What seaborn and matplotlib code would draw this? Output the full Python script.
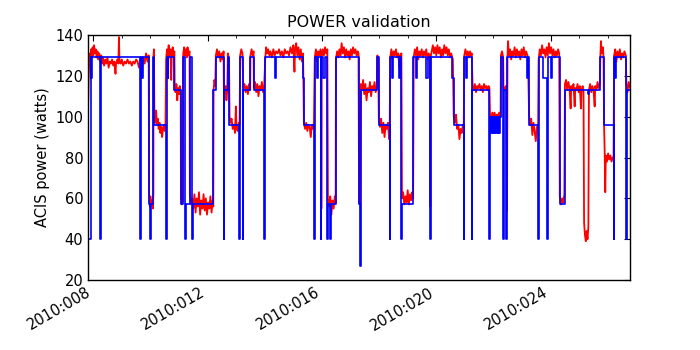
import numpy as np
import pandas as pd
import matplotlib
matplotlib.use("Agg")
import matplotlib.pyplot as plt
from matplotlib.ticker import FuncFormatter, MultipleLocator
import seaborn as sns

# model (blue) - step levels, day of year 2010
model_day = [7.825, 7.906, 7.93, 7.965, 8.245, 8.27, 9.62, 9.654, 9.675, 9.70,
             9.74, 9.958, 9.99, 10.01, 10.108, 10.133, 10.542, 10.565, 10.60, 10.63,
             10.843, 11.066, 11.147, 11.206, 11.23, 11.381, 11.472, 11.495, 12.206, 12.290,
             12.570, 12.59, 12.710, 12.766, 13.115, 13.138, 13.234, 13.257, 13.500, 13.619,
             13.979, 14.024, 14.374, 14.40, 15.33, 15.378, 15.727, 15.75, 15.82, 15.85,
             15.962, 15.985, 16.05, 16.10, 16.192, 16.215, 16.30, 16.32, 16.486, 17.30,
             17.33, 17.36, 17.94, 17.98, 18.374, 18.395, 18.45, 18.48, 18.69, 18.72,
             18.780, 18.80, 19.189, 19.30, 19.33, 19.64, 19.72, 19.783, 19.81, 20.55,
             20.612, 20.962, 20.985, 21.04, 21.07, 21.241, 21.265, 21.857, 21.88, 21.91,
             21.94, 21.97, 22.00, 22.03, 22.06, 22.09, 22.12, 22.15, 22.18, 22.21,
             22.24, 22.255, 22.336, 22.36, 22.451, 22.475, 23.16, 23.20, 23.245, 23.570,
             23.595, 23.734, 23.885, 23.91, 24.02, 24.05, 24.318, 24.493, 25.31, 25.35,
             25.738, 25.857, 26.203, 26.225, 26.25, 26.28, 26.636, 26.66, 26.78]
model_watts = [40, 129, 119, 129, 40, 129, 119, 40, 129, 119,
               129, 57, 40, 57, 129, 96, 40, 129, 119, 129,
               113, 57, 129, 40, 57, 129, 40, 57, 113, 129,
               40, 113, 129, 96, 40, 129, 40, 113, 129, 113,
               40, 129, 119, 129, 119, 96, 40, 129, 119, 129,
               40, 129, 119, 129, 40, 57, 40, 57, 129, 57,
               27, 113, 129, 96, 40, 129, 119, 129, 119, 129,
               40, 57, 129, 119, 129, 119, 129, 40, 129, 119,
               96, 40, 129, 119, 129, 40, 113, 40, 100, 92,
               100, 92, 100, 92, 100, 92, 100, 92, 100, 92,
               100, 129, 40, 113, 40, 129, 119, 129, 96, 40,
               129, 119, 40, 129, 119, 129, 57, 113, 111, 113,
               129, 96, 40, 129, 119, 129, 40, 113, 113]

# telemetry (red)
telem_day = [7.825, 7.84, 7.86, 7.88, 7.90, 7.93, 7.95, 7.98, 8.00, 8.03,
             8.06, 8.09, 8.12, 8.15, 8.18, 8.21, 8.25, 8.28, 8.31, 8.34,
             8.38, 8.42, 8.46, 8.50, 8.54, 8.58, 8.62, 8.66, 8.70, 8.74,
             8.78, 8.80, 8.84, 8.88, 8.90, 8.92, 8.96, 9.00, 9.05, 9.10,
             9.15, 9.20, 9.25, 9.30, 9.35, 9.40, 9.45, 9.50, 9.55, 9.60,
             9.65, 9.70, 9.75, 9.80, 9.85, 9.90, 9.94, 9.955, 9.98, 10.00,
             10.03, 10.06, 10.09, 10.105, 10.11, 10.125, 10.14, 10.17, 10.20, 10.23,
             10.26, 10.29, 10.32, 10.35, 10.38, 10.41, 10.44, 10.47, 10.50, 10.53,
             10.55, 10.58, 10.61, 10.64, 10.67, 10.70, 10.73, 10.75, 10.78, 10.81,
             10.84, 10.85, 10.88, 10.91, 10.94, 10.97, 11.00, 11.03, 11.06, 11.07,
             11.10, 11.13, 11.15, 11.18, 11.21, 11.24, 11.27, 11.30, 11.33, 11.37,
             11.38, 11.42, 11.46, 11.50, 11.54, 11.58, 11.62, 11.66, 11.70, 11.74,
             11.78, 11.82, 11.86, 11.90, 11.94, 11.98, 12.02, 12.06, 12.10, 12.14,
             12.18, 12.20, 12.21, 12.24, 12.27, 12.29, 12.33, 12.37, 12.41, 12.45,
             12.49, 12.53, 12.56, 12.57, 12.60, 12.63, 12.66, 12.69, 12.71, 12.75,
             12.77, 12.80, 12.84, 12.88, 12.92, 12.96, 12.99, 13.01, 13.05, 13.09,
             13.12, 13.14, 13.18, 13.22, 13.25, 13.29, 13.33, 13.37, 13.41, 13.45,
             13.49, 13.50, 13.54, 13.58, 13.61, 13.62, 13.66, 13.70, 13.74, 13.78,
             13.82, 13.86, 13.90, 13.94, 13.98, 14.02, 14.05, 14.08, 14.12, 14.16,
             14.20, 14.25, 14.30, 14.35, 14.40, 14.45, 14.50, 14.55, 14.60, 14.65,
             14.70, 14.75, 14.80, 14.85, 14.90, 14.95, 15.00, 15.04, 15.06, 15.10,
             15.14, 15.18, 15.22, 15.26, 15.30, 15.34, 15.37, 15.41, 15.45, 15.49,
             15.53, 15.57, 15.61, 15.65, 15.69, 15.72, 15.75, 15.79, 15.83, 15.87,
             15.91, 15.95, 15.975, 15.98, 15.99, 16.03, 16.07, 16.11, 16.15, 16.19,
             16.21, 16.25, 16.29, 16.33, 16.37, 16.41, 16.45, 16.48, 16.49, 16.53,
             16.57, 16.61, 16.65, 16.69, 16.73, 16.77, 16.81, 16.85, 16.89, 16.93,
             16.97, 17.01, 17.05, 17.09, 17.13, 17.17, 17.21, 17.25, 17.28, 17.30,
             17.33, 17.36, 17.40, 17.44, 17.48, 17.52, 17.56, 17.60, 17.64, 17.68,
             17.72, 17.76, 17.80, 17.84, 17.88, 17.92, 17.94, 17.97, 17.99, 18.03,
             18.07, 18.11, 18.15, 18.19, 18.23, 18.27, 18.31, 18.35, 18.37, 18.39,
             18.43, 18.47, 18.51, 18.55, 18.59, 18.63, 18.67, 18.71, 18.74, 18.78,
             18.80, 18.84, 18.88, 18.92, 18.96, 19.00, 19.04, 19.08, 19.12, 19.16,
             19.19, 19.21, 19.25, 19.29, 19.33, 19.37, 19.41, 19.45, 19.49, 19.53,
             19.57, 19.61, 19.65, 19.69, 19.73, 19.78, 19.79, 19.80, 19.84, 19.88,
             19.92, 19.96, 20.00, 20.04, 20.08, 20.12, 20.16, 20.20, 20.24, 20.28,
             20.32, 20.36, 20.40, 20.44, 20.48, 20.52, 20.58, 20.61, 20.65, 20.69,
             20.73, 20.77, 20.81, 20.85, 20.89, 20.93, 20.96, 20.98, 21.02, 21.06,
             21.10, 21.14, 21.18, 21.22, 21.24, 21.27, 21.31, 21.35, 21.39, 21.43,
             21.47, 21.51, 21.55, 21.59, 21.63, 21.67, 21.71, 21.75, 21.79, 21.83,
             21.86, 21.88, 21.92, 21.96, 22.00, 22.04, 22.08, 22.12, 22.16, 22.20,
             22.25, 22.26, 22.30, 22.34, 22.35, 22.39, 22.43, 22.46, 22.475, 22.49,
             22.51, 22.54, 22.58, 22.62, 22.66, 22.70, 22.74, 22.78, 22.82, 22.86,
             22.90, 22.94, 22.98, 23.02, 23.06, 23.10, 23.14, 23.19, 23.21, 23.245,
             23.28, 23.32, 23.36, 23.40, 23.44, 23.48, 23.52, 23.56, 23.58, 23.62,
             23.66, 23.70, 23.74, 23.78, 23.82, 23.86, 23.90, 23.94, 23.98, 24.02,
             24.06, 24.10, 24.14, 24.18, 24.22, 24.26, 24.30, 24.32, 24.36, 24.40,
             24.44, 24.48, 24.50, 24.54, 24.58, 24.62, 24.66, 24.70, 24.72, 24.76,
             24.80, 24.84, 24.86, 24.90, 24.94, 24.98, 25.02, 25.06, 25.08, 25.12,
             25.15, 25.17, 25.20, 25.23, 25.26, 25.29, 25.32, 25.34, 25.38, 25.42,
             25.46, 25.50, 25.54, 25.56, 25.60, 25.64, 25.68, 25.72, 25.74, 25.76,
             25.79, 25.83, 25.85, 25.87, 25.89, 25.91, 25.93, 25.97, 26.01, 26.05,
             26.09, 26.13, 26.17, 26.20, 26.22, 26.26, 26.30, 26.34, 26.38, 26.42,
             26.46, 26.50, 26.54, 26.58, 26.63, 26.65, 26.69, 26.73, 26.78]
telem_watts = [107, 118, 126, 131, 128, 133, 129, 134, 130, 135,
               131, 133, 129, 132, 128, 131, 127, 130, 126, 129,
               125, 128, 126, 129, 124, 127, 126, 128, 125, 127,
               121, 126, 128, 126, 139, 127, 126, 128, 125, 127,
               126, 128, 126, 127, 125, 127, 126, 128, 127, 124,
               128, 122, 129, 126, 131, 127, 130, 62, 56, 61,
               57, 59, 55, 63, 130, 133, 100, 97, 103, 96,
               99, 94, 97, 92, 95, 90, 94, 96, 93, 97,
               128, 133, 130, 135, 129, 133, 118, 131, 134, 130,
               132, 115, 112, 116, 108, 114, 111, 115, 112, 60,
               57, 59, 131, 134, 130, 133, 129, 134, 130, 132,
               62, 57, 60, 55, 62, 53, 60, 56, 63, 52,
               59, 55, 62, 54, 60, 52, 58, 55, 61, 53,
               59, 56, 113, 118, 115, 130, 133, 129, 132, 127,
               131, 128, 132, 114, 111, 115, 108, 113, 131, 128,
               100, 97, 99, 94, 96, 92, 105, 95, 93, 97,
               96, 130, 133, 131, 114, 116, 112, 115, 111, 116,
               113, 130, 133, 130, 132, 114, 117, 112, 116, 110,
               115, 113, 117, 112, 115, 129, 134, 131, 133, 130,
               132, 129, 133, 130, 132, 131, 133, 130, 132, 129,
               133, 131, 132, 130, 134, 131, 135, 122, 133, 136,
               130, 134, 128, 133, 127, 131, 97, 94, 97, 93,
               96, 95, 90, 96, 94, 97, 129, 133, 127, 132,
               130, 133, 130, 55, 129, 133, 130, 134, 131, 133,
               60, 56, 61, 52, 59, 55, 61, 58, 128, 132,
               129, 133, 130, 136, 131, 134, 129, 133, 130, 132,
               128, 133, 130, 134, 131, 133, 130, 132, 131, 58,
               57, 116, 113, 118, 111, 116, 108, 114, 112, 117,
               110, 115, 113, 117, 112, 115, 130, 128, 98, 95,
               99, 92, 97, 90, 96, 94, 97, 89, 95, 129,
               133, 128, 132, 130, 133, 129, 131, 124, 130, 131,
               60, 63, 57, 61, 58, 64, 57, 62, 59, 63,
               60, 129, 133, 130, 134, 128, 132, 130, 133, 129,
               132, 130, 133, 128, 131, 130, 56, 129, 132, 135,
               131, 134, 130, 135, 131, 134, 129, 133, 130, 135,
               131, 134, 130, 133, 129, 131, 128, 100, 97, 101,
               94, 96, 89, 94, 92, 96, 94, 130, 133, 130,
               132, 129, 132, 130, 131, 115, 113, 116, 112, 115,
               114, 116, 113, 115, 112, 116, 114, 115, 113, 115,
               114, 101, 99, 102, 100, 102, 99, 101, 100, 102,
               100, 130, 132, 129, 114, 113, 115, 112, 54, 129,
               137, 130, 133, 128, 132, 130, 134, 129, 133, 130,
               132, 128, 133, 130, 134, 129, 132, 130, 128, 101,
               96, 99, 91, 97, 93, 88, 95, 92, 128, 133,
               130, 135, 131, 133, 129, 134, 130, 136, 131, 134,
               130, 133, 129, 132, 130, 133, 131, 61, 57, 60,
               58, 62, 116, 118, 113, 117, 114, 104, 115, 113,
               116, 105, 114, 113, 116, 112, 115, 104, 113, 115,
               112, 48, 42, 39, 44, 40, 46, 113, 116, 112,
               115, 113, 105, 115, 113, 117, 114, 116, 130, 137,
               131, 134, 129, 95, 83, 63, 81, 78, 82, 79,
               81, 78, 80, 79, 130, 133, 127, 132, 129, 133,
               128, 131, 129, 132, 130, 116, 112, 117, 114]

major_days = [8, 12, 16, 20, 24]


def day_label(v, pos):
    return "2010:%03d" % int(round(v))


def make_plot():
    sns.set_style("white")
    plt.rcParams['font.family'] = ['DejaVu Sans']
    for key in ['text.color', 'axes.labelcolor', 'xtick.color', 'ytick.color']:
        plt.rcParams[key] = 'black'

    telem = pd.DataFrame({'day': telem_day, 'watts': telem_watts})
    model = pd.DataFrame({'day': model_day, 'watts': model_watts})

    fig, ax = plt.subplots(figsize=(7, 3.5), dpi=100)
    fig.subplots_adjust(left=0.126, right=0.9, bottom=0.2, top=0.9)

    sns.lineplot(ax=ax, data=telem, x='day', y='watts', color='red',
                 linewidth=1.3, estimator=None, sort=False)
    sns.lineplot(ax=ax, data=model, x='day', y='watts', color='blue',
                 linewidth=1.2, estimator=None, sort=False, drawstyle='steps-post')

    ax.set_xlim(7.825, 26.776)
    ax.set_ylim(20, 140)
    ax.set_xticks(major_days)
    ax.xaxis.set_minor_locator(MultipleLocator(1))
    ax.xaxis.set_major_formatter(FuncFormatter(day_label))
    ax.set_yticks([20, 40, 60, 80, 100, 120, 140])

    ax.tick_params(which='both', top=True, right=True, direction='in',
                   color='black', labelcolor='black', labelsize=10.5)
    ax.tick_params(which='major', length=4, width=0.8)
    ax.tick_params(which='minor', length=2, width=0.6)
    for lab in ax.get_xticklabels():
        lab.set_rotation(30)
        lab.set_ha('right')

    for sp in ax.spines.values():
        sp.set_visible(True)
        sp.set_color('black')
        sp.set_linewidth(1.0)

    ax.set_title("POWER validation", fontsize=11.5, color='black')
    ax.set_xlabel("")
    ax.set_ylabel("ACIS power (watts)", fontsize=10.5, color='black')

    fig.savefig("out.png", dpi=100)


make_plot()
